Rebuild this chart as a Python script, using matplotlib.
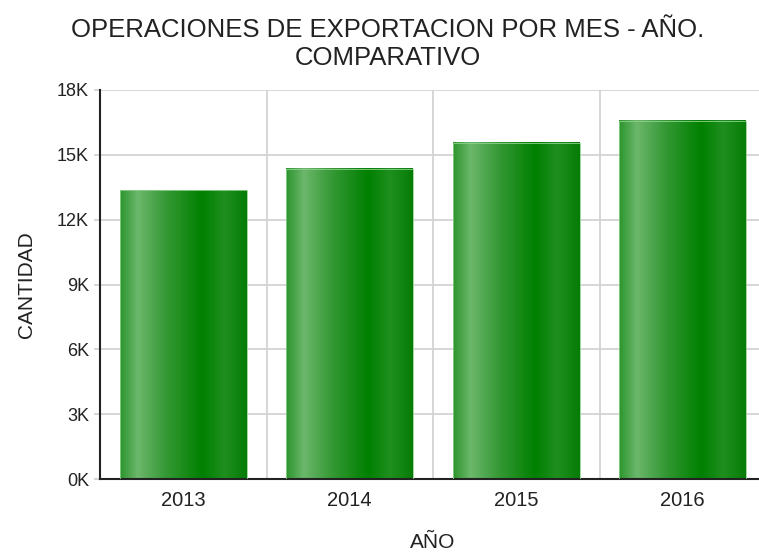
import numpy as np
import matplotlib
matplotlib.use("Agg")
import matplotlib.pyplot as plt
from matplotlib.colors import LinearSegmentedColormap
from matplotlib.ticker import FuncFormatter, MultipleLocator

years = ["2013", "2014", "2015", "2016"]
cantidad = [13350, 14350, 15550, 16570]
y_max = 18000

plt.rcParams['font.family'] = ['Liberation Sans', 'DejaVu Sans']

# horizontal shading across each bar
bar_cmap = LinearSegmentedColormap.from_list("bar", [
    (0.00, "#2c952c"),
    (0.14, "#6cb76c"),
    (0.35, "#379a37"),
    (0.65, "#008000"),
    (0.82, "#1f8f1f"),
    (1.00, "#067d06"),
])

fig = plt.figure(figsize=(7.59, 5.53), dpi=100)
ax = fig.add_axes([100 / 759, 74 / 553, 666 / 759, 389 / 553])

x = np.arange(len(years))
width = 0.76
grad = np.linspace(0, 1, 256).reshape(1, -1)
for xi, v in zip(x, cantidad):
    x0, x1 = xi - width / 2, xi + width / 2
    ax.imshow(grad, cmap=bar_cmap, extent=[x0, x1, 0, v], aspect="auto",
              origin="lower", zorder=2)
    ax.add_patch(plt.Rectangle((x0, 0), width, v, fill=False,
                               edgecolor="#8fd08f", linewidth=0.6, zorder=3))

ax.set_xlim(-0.5, len(years) - 0.5)
ax.set_ylim(0, y_max)
ax.set_xticks(x)
ax.set_xticklabels(years)
ax.yaxis.set_major_locator(MultipleLocator(3000))
ax.yaxis.set_major_formatter(FuncFormatter(lambda v, p: f"{int(v / 1000)}K"))

# grid: horizontal at ticks, vertical between categories
for yv in np.arange(3000, y_max + 1, 3000):
    ax.axhline(yv, color="#d3d3d3", linewidth=1.3, zorder=1)
for xb in x[:-1] + 0.5:
    ax.axvline(xb, color="#d3d3d3", linewidth=1.3, zorder=1)

for s in ["top", "right"]:
    ax.spines[s].set_visible(False)
ax.spines["left"].set_color("#222222")
ax.spines["bottom"].set_color("#222222")
ax.spines["left"].set_linewidth(1.5)
ax.spines["bottom"].set_linewidth(1.5)
ax.tick_params(axis="y", length=4, color="#d3d3d3", width=1.3, labelsize=13, labelcolor="#222222", pad=4)
ax.tick_params(axis="x", length=0, labelsize=14.5, labelcolor="#222222", pad=9)

ax.set_xlabel("AÑO", fontsize=15, color="#222222", labelpad=16)
ax.set_ylabel("CANTIDAD", fontsize=15, color="#222222", labelpad=15)

fig.text(388 / 759, 1 - 44 / 553, "OPERACIONES DE EXPORTACION POR MES - AÑO.\nCOMPARATIVO",
         ha="center", va="center", fontsize=18.5, color="#222222", linespacing=1.16)

fig.savefig("out.png", dpi=100)
